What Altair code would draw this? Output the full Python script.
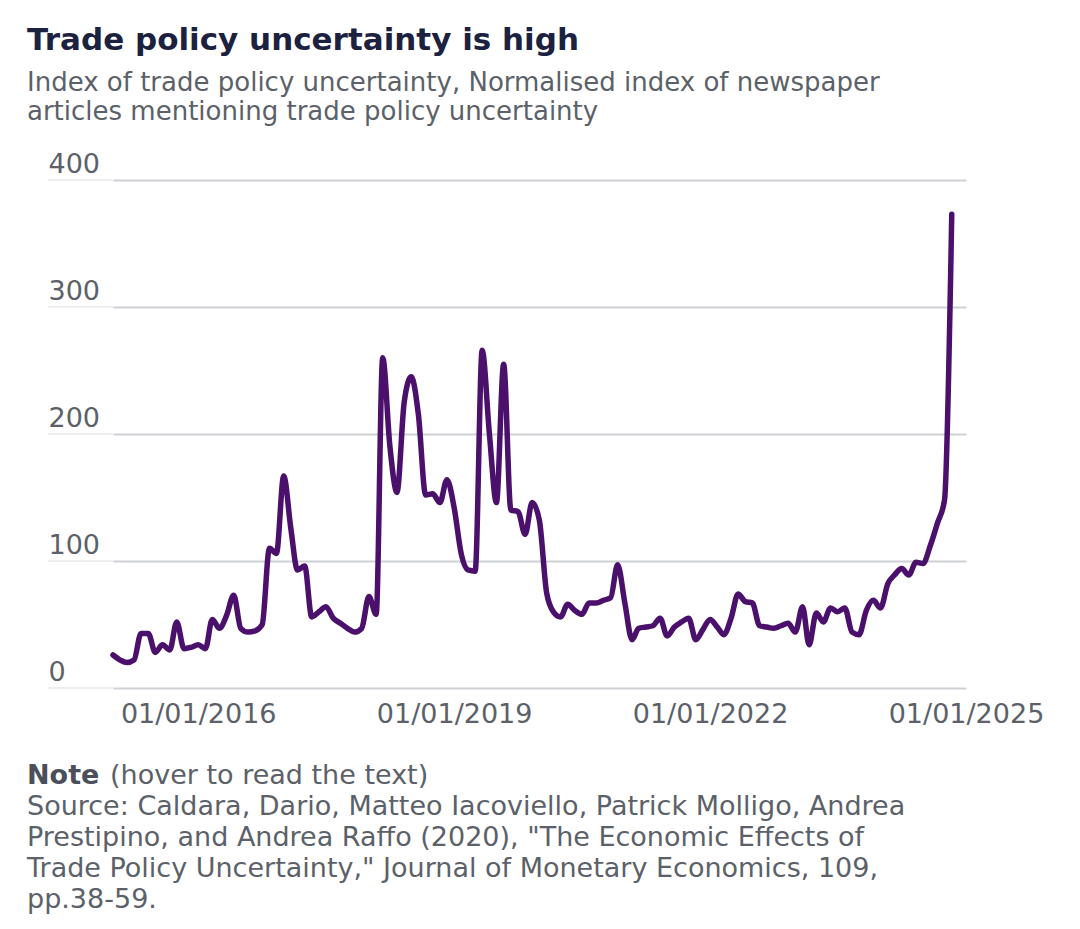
import altair as alt
import pandas as pd

# Monthly index values, Jan 2015 onwards
tpu_values = [
    26, 22, 20, 22, 43, 43, 28, 34, 30, 52, 31, 32,          # 2015
    34, 31, 54, 47, 57, 73, 47, 44, 45, 50, 110, 106,        # 2016
    167, 125, 93, 96, 56, 60, 64, 55, 51, 47, 44, 47,        # 2017
    72, 58, 260, 190, 154, 225, 245, 215, 152, 153, 146, 164,  # 2018
    142, 105, 93, 92, 266, 200, 146, 255, 140, 139, 121, 146,  # 2019
    132, 75, 60, 56, 66, 61, 58, 67, 67, 69, 71, 97,         # 2020
    67, 38, 47, 48, 49, 55, 41, 48, 52, 55, 38, 46,          # 2021
    54, 48, 42, 55, 74, 68, 67, 49, 48, 47, 49, 51,          # 2022
    44, 64, 34, 59, 52, 63, 60, 63, 44, 42, 61, 69,          # 2023
    63, 82, 89, 94, 89, 99, 98, 112, 130, 148, 373,          # 2024
]
dates = pd.date_range("2015-01-01", periods=len(tpu_values), freq="MS").strftime("%Y-%m-%d").tolist()

y_ticks = [0, 100, 200, 300, 400]
x_tick_years = [2016, 2019, 2022, 2025]

title_text = "Trade policy uncertainty is high"
subtitle_lines = [
    "Index of trade policy uncertainty, Normalised index of newspaper",
    "articles mentioning trade policy uncertainty",
]
note_bold = "Note"
note_rest = "(hover to read the text)"
source_lines = [
    "Source: Caldara, Dario, Matteo Iacoviello, Patrick Molligo, Andrea",
    "Prestipino, and Andrea Raffo (2020), \"The Economic Effects of",
    "Trade Policy Uncertainty,\" Journal of Monetary Economics, 109,",
    "pp.38-59.",
]

FONT = "DejaVu Sans"
GRAY = "#5c6169"
LINE = "#4b106b"

df = pd.DataFrame({"date": dates, "value": tpu_values})

x_scale = alt.Scale(
    type="utc",
    domain=[alt.DateTime(year=2015, month=1, date=1, utc=True),
            alt.DateTime(year=2025, month=1, date=1, utc=True)],
)
y_scale = alt.Scale(domain=[0, 400], nice=False)

line = alt.Chart(df).mark_line(
    color=LINE, strokeWidth=5.5, interpolate="monotone", strokeCap="round", strokeJoin="round"
).encode(
    x=alt.X(
        "date:T",
        scale=x_scale,
        axis=alt.Axis(
            values=[alt.DateTime(year=y, month=1, date=1, utc=True) for y in x_tick_years],
            format="%d/%m/%Y",
            title=None,
            grid=False,
            domain=False,
            ticks=False,
            labelPadding=13,
            labelFont=FONT,
            labelFontSize=27,
            labelColor=GRAY,
            labelFlush=False,
        ),
    ),
    y=alt.Y(
        "value:Q",
        scale=y_scale,
        axis=alt.Axis(
            values=y_ticks,
            title=None,
            grid=True,
            gridColor="#cdd1d6",
            gridWidth=2,
            domain=False,
            ticks=False,
            tickSize=0,
            labelAlign="left",
            labelBaseline="alphabetic",
            labelOffset=-8,
            labelPadding=65,
            labelFont=FONT,
            labelFontSize=27,
            labelColor=GRAY,
        ),
    ),
)

# faint extension of gridlines under the y labels
grid_ext = alt.Chart(pd.DataFrame({"v": y_ticks})).mark_rule(
    color="#eceef0", strokeWidth=2
).encode(
    y=alt.Y("v:Q", scale=y_scale),
    x=alt.value(-65),
    x2=alt.value(0),
)

def text_layer(txt, x, y, size, color, weight="normal"):
    return alt.Chart(pd.DataFrame({"t": [txt]})).mark_text(
        align="left", baseline="alphabetic", font=FONT, fontSize=size,
        fontWeight=weight, color=color,
    ).encode(text="t:N", x=alt.value(x), y=alt.value(y))

layers = [grid_ext, line]
layers.append(text_layer(title_text, -86, -130, 31, "#1c2140", "bold"))
layers.append(text_layer(subtitle_lines[0], -86, -89, 26, GRAY))
layers.append(text_layer(subtitle_lines[1], -86, -60, 26, GRAY))
layers.append(text_layer(note_bold, -86, 604, 27, "#4a4f5b", "bold"))
layers.append(text_layer(note_rest, -3, 604, 27, GRAY))
src_y = [635, 666, 697, 728]
for txt, yy in zip(source_lines, src_y):
    layers.append(text_layer(txt, -86, yy, 27, GRAY))

chart = alt.layer(*layers).properties(
    width=853,
    height=508,
    autosize=alt.AutoSizeParams(type="none"),
    padding={"left": 105, "top": 172, "right": 100, "bottom": 228},
).configure(background="white").configure_view(stroke="transparent", strokeWidth=0)

chart.save("out.html", embed_options={"renderer": "svg", "actions": False})
